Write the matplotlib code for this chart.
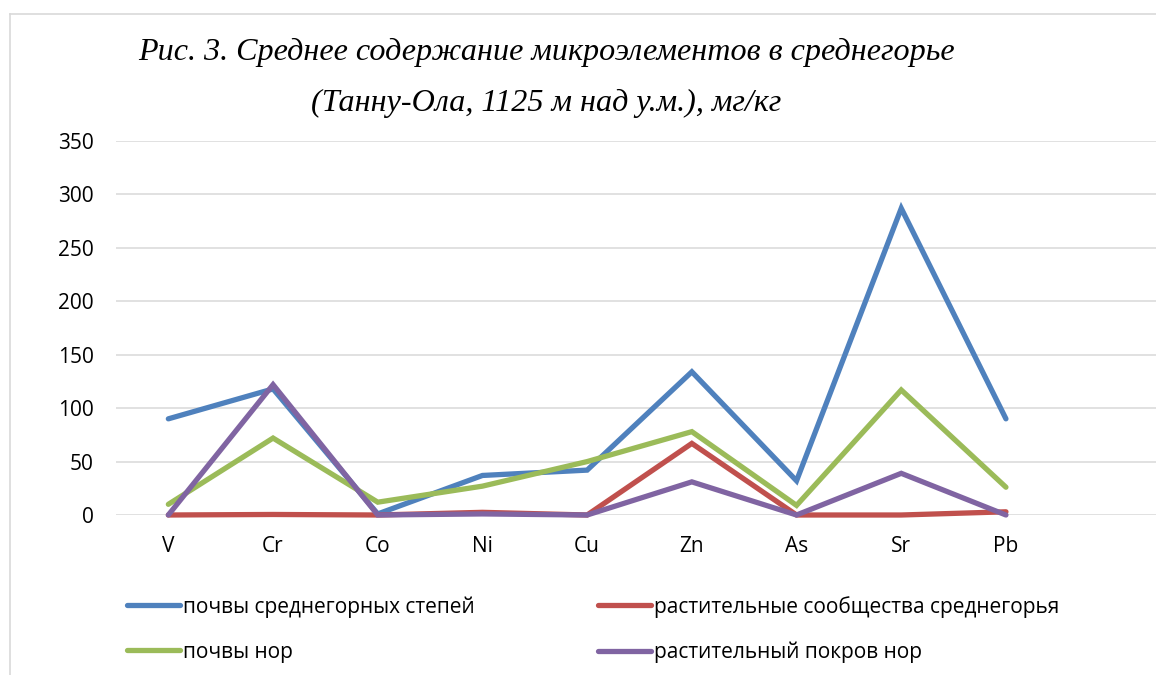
import matplotlib
matplotlib.use("Agg")
import matplotlib.pyplot as plt
from matplotlib.lines import Line2D

categories = ["V", "Cr", "Co", "Ni", "Cu", "Zn", "As", "Sr", "Pb", ""]
soil_steppe = [90, 118, 1, 37, 42, 134, 32, 287, 90]
plant_comm = [0, 0.5, 0, 2.5, 0, 67, 0, 0, 3]
soil_burrow = [10, 72, 12, 27, 50, 78, 9, 117, 26]
plant_burrow = [0, 122, 0, 1, 0, 31, 0, 39, 0]

series_names = ["почвы среднегорных степей", "растительные сообщества среднегорья",
                "почвы нор", "растительный покров нор"]
colors = ["#4F81BD", "#C0504D", "#9BBB59", "#8064A2"]
yticks = [0, 50, 100, 150, 200, 250, 300, 350]

W, H = 1156, 675
fig = plt.figure(figsize=(W / 100, H / 100), dpi=100)
fig.patch.set_facecolor("white")

font = "Open Sans"
fs = 15

ax = fig.add_axes([116 / W, (H - 515) / H, 1047 / W, 374 / H])
ax.set_xlim(-0.5, len(categories) - 0.5)
ax.set_ylim(0, 350)

x = list(range(len(soil_steppe)))
handles = []
for data, c, name in zip([soil_steppe, plant_comm, soil_burrow, plant_burrow], colors, series_names):
    ln, = ax.plot(x, data, color=c, lw=3.8, solid_capstyle="round",
                  solid_joinstyle="miter", clip_on=False, label=name, zorder=3)
    handles.append(ln)

ax.set_yticks(yticks)
ax.set_yticklabels([str(v) for v in yticks], fontfamily=font, fontsize=fs)
ax.set_xticks(range(len(categories)))
ax.set_xticklabels(categories, fontfamily=font, fontsize=fs)
ax.tick_params(axis="both", length=0, colors="black")
ax.tick_params(axis="y", pad=16)
ax.tick_params(axis="x", pad=15)
ax.grid(axis="y", color="#D9D9D9", lw=1.1, zorder=0)
ax.set_axisbelow(True)
for s in ax.spines.values():
    s.set_visible(False)

# outer chart border (partially cropped)
fig.add_artist(Line2D([10 / W, 10 / W], [0, (H - 14) / H], color="#D9D9D9", lw=1.2))
fig.add_artist(Line2D([10 / W, 1.0], [(H - 14) / H, (H - 14) / H], color="#D9D9D9", lw=1.2))

title_kw = dict(fontfamily="Liberation Serif", style="italic", fontsize=23.1, ha="center", va="center")
fig.text(546 / W, (H - 52) / H, "Рис. 3. Среднее содержание микроэлементов в среднегорье", **title_kw)
fig.text(546 / W, (H - 103) / H, "(Танну-Ола, 1125 м над у.м.), мг/кг", **title_kw)

order = [0, 2, 1, 3]
leg = fig.legend([handles[i] for i in order], [series_names[i] for i in order],
                 ncol=2, loc="center left", bbox_to_anchor=(127 / W, (H - 629.5) / H),
                 frameon=False, prop={"family": font, "size": fs},
                 handlelength=2.55, handletextpad=0.15, columnspacing=5.9,
                 labelspacing=1.15, borderpad=0, borderaxespad=0)

fig.savefig("out.png", dpi=100, facecolor="white")
